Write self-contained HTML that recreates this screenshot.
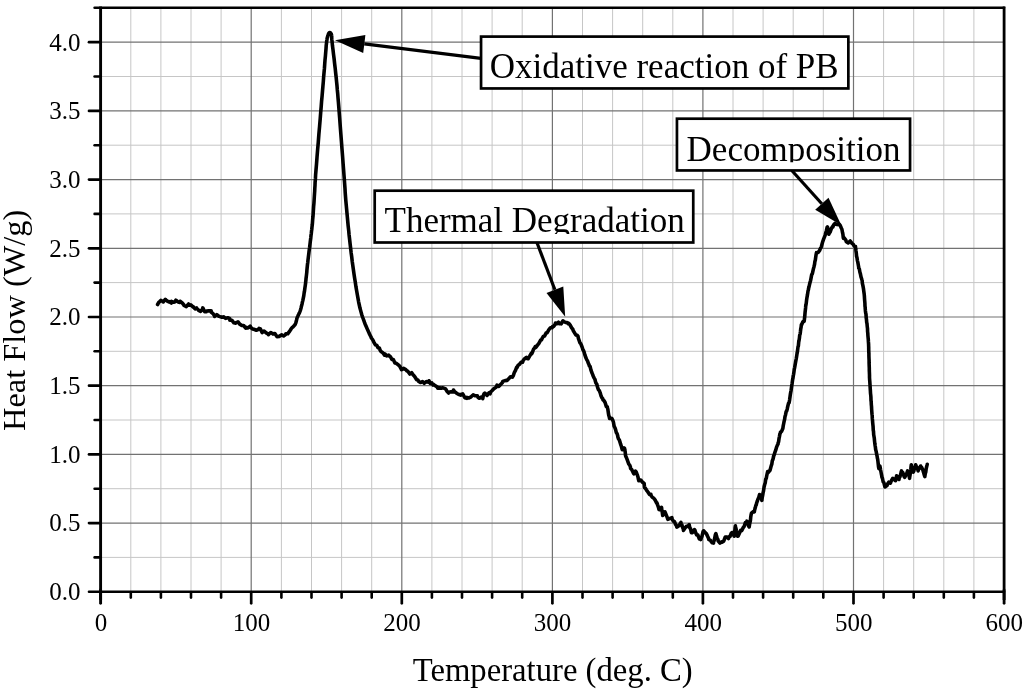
<!DOCTYPE html>
<html><head><meta charset="utf-8"><title>DSC curve</title>
<style>
html,body{margin:0;padding:0;background:#fff;}
body{width:1024px;height:693px;overflow:hidden;}
svg{display:block;will-change:transform;}
text{font-family:"Liberation Serif",serif;fill:#000;}
</style></head><body>
<svg width="1024" height="693" viewBox="0 0 1024 693">
<rect width="1024" height="693" fill="#fff"/>
<g stroke="#c6c6c6" stroke-width="1" fill="none">
<line x1="130.8" y1="9" x2="130.8" y2="591"/>
<line x1="160.9" y1="9" x2="160.9" y2="591"/>
<line x1="191.0" y1="9" x2="191.0" y2="591"/>
<line x1="221.1" y1="9" x2="221.1" y2="591"/>
<line x1="281.4" y1="9" x2="281.4" y2="591"/>
<line x1="311.5" y1="9" x2="311.5" y2="591"/>
<line x1="341.6" y1="9" x2="341.6" y2="591"/>
<line x1="371.7" y1="9" x2="371.7" y2="591"/>
<line x1="431.9" y1="9" x2="431.9" y2="591"/>
<line x1="462.0" y1="9" x2="462.0" y2="591"/>
<line x1="492.1" y1="9" x2="492.1" y2="591"/>
<line x1="522.2" y1="9" x2="522.2" y2="591"/>
<line x1="582.5" y1="9" x2="582.5" y2="591"/>
<line x1="612.6" y1="9" x2="612.6" y2="591"/>
<line x1="642.7" y1="9" x2="642.7" y2="591"/>
<line x1="672.8" y1="9" x2="672.8" y2="591"/>
<line x1="733.0" y1="9" x2="733.0" y2="591"/>
<line x1="763.1" y1="9" x2="763.1" y2="591"/>
<line x1="793.2" y1="9" x2="793.2" y2="591"/>
<line x1="823.3" y1="9" x2="823.3" y2="591"/>
<line x1="883.6" y1="9" x2="883.6" y2="591"/>
<line x1="913.7" y1="9" x2="913.7" y2="591"/>
<line x1="943.8" y1="9" x2="943.8" y2="591"/>
<line x1="973.9" y1="9" x2="973.9" y2="591"/>
<line x1="101" y1="557.4" x2="1004" y2="557.4"/>
<line x1="101" y1="488.7" x2="1004" y2="488.7"/>
<line x1="101" y1="420.0" x2="1004" y2="420.0"/>
<line x1="101" y1="351.3" x2="1004" y2="351.3"/>
<line x1="101" y1="282.6" x2="1004" y2="282.6"/>
<line x1="101" y1="213.9" x2="1004" y2="213.9"/>
<line x1="101" y1="145.2" x2="1004" y2="145.2"/>
<line x1="101" y1="76.5" x2="1004" y2="76.5"/>
</g>
<g stroke="#727272" stroke-width="1.2" fill="none">
<line x1="251.2" y1="9" x2="251.2" y2="591"/>
<line x1="401.8" y1="9" x2="401.8" y2="591"/>
<line x1="552.4" y1="9" x2="552.4" y2="591"/>
<line x1="702.9" y1="9" x2="702.9" y2="591"/>
<line x1="853.5" y1="9" x2="853.5" y2="591"/>
<line x1="101" y1="523.1" x2="1004" y2="523.1"/>
<line x1="101" y1="454.4" x2="1004" y2="454.4"/>
<line x1="101" y1="385.7" x2="1004" y2="385.7"/>
<line x1="101" y1="317.0" x2="1004" y2="317.0"/>
<line x1="101" y1="248.3" x2="1004" y2="248.3"/>
<line x1="101" y1="179.6" x2="1004" y2="179.6"/>
<line x1="101" y1="110.9" x2="1004" y2="110.9"/>
<line x1="101" y1="42.2" x2="1004" y2="42.2"/>
</g>
<g stroke="#000" fill="none" stroke-linecap="butt">
<path d="M94.6 7.75 H1004" stroke-width="2.6" stroke-linecap="round"/>
<path d="M1004.1 6.45 V600" stroke-width="2.8"/>
<path d="M1004.1 590 V603.3" stroke-width="2.8" stroke-linecap="round"/>
<path d="M100.6 6.45 V600" stroke-width="2.9"/>
<path d="M100.6 590 V603.3" stroke-width="2.9" stroke-linecap="round"/>
<path d="M89 591.75 H1004" stroke-width="2.6" stroke-linecap="round"/>
<line x1="130.8" y1="593" x2="130.8" y2="597.6" stroke-width="2.6" stroke-linecap="round"/>
<line x1="160.9" y1="593" x2="160.9" y2="597.6" stroke-width="2.6" stroke-linecap="round"/>
<line x1="191.0" y1="593" x2="191.0" y2="597.6" stroke-width="2.6" stroke-linecap="round"/>
<line x1="221.1" y1="593" x2="221.1" y2="597.6" stroke-width="2.6" stroke-linecap="round"/>
<line x1="251.2" y1="593" x2="251.2" y2="603.3" stroke-width="2.7" stroke-linecap="round"/>
<line x1="281.4" y1="593" x2="281.4" y2="597.6" stroke-width="2.6" stroke-linecap="round"/>
<line x1="311.5" y1="593" x2="311.5" y2="597.6" stroke-width="2.6" stroke-linecap="round"/>
<line x1="341.6" y1="593" x2="341.6" y2="597.6" stroke-width="2.6" stroke-linecap="round"/>
<line x1="371.7" y1="593" x2="371.7" y2="597.6" stroke-width="2.6" stroke-linecap="round"/>
<line x1="401.8" y1="593" x2="401.8" y2="603.3" stroke-width="2.7" stroke-linecap="round"/>
<line x1="431.9" y1="593" x2="431.9" y2="597.6" stroke-width="2.6" stroke-linecap="round"/>
<line x1="462.0" y1="593" x2="462.0" y2="597.6" stroke-width="2.6" stroke-linecap="round"/>
<line x1="492.1" y1="593" x2="492.1" y2="597.6" stroke-width="2.6" stroke-linecap="round"/>
<line x1="522.2" y1="593" x2="522.2" y2="597.6" stroke-width="2.6" stroke-linecap="round"/>
<line x1="552.4" y1="593" x2="552.4" y2="603.3" stroke-width="2.7" stroke-linecap="round"/>
<line x1="582.5" y1="593" x2="582.5" y2="597.6" stroke-width="2.6" stroke-linecap="round"/>
<line x1="612.6" y1="593" x2="612.6" y2="597.6" stroke-width="2.6" stroke-linecap="round"/>
<line x1="642.7" y1="593" x2="642.7" y2="597.6" stroke-width="2.6" stroke-linecap="round"/>
<line x1="672.8" y1="593" x2="672.8" y2="597.6" stroke-width="2.6" stroke-linecap="round"/>
<line x1="702.9" y1="593" x2="702.9" y2="603.3" stroke-width="2.7" stroke-linecap="round"/>
<line x1="733.0" y1="593" x2="733.0" y2="597.6" stroke-width="2.6" stroke-linecap="round"/>
<line x1="763.1" y1="593" x2="763.1" y2="597.6" stroke-width="2.6" stroke-linecap="round"/>
<line x1="793.2" y1="593" x2="793.2" y2="597.6" stroke-width="2.6" stroke-linecap="round"/>
<line x1="823.3" y1="593" x2="823.3" y2="597.6" stroke-width="2.6" stroke-linecap="round"/>
<line x1="853.5" y1="593" x2="853.5" y2="603.3" stroke-width="2.7" stroke-linecap="round"/>
<line x1="883.6" y1="593" x2="883.6" y2="597.6" stroke-width="2.6" stroke-linecap="round"/>
<line x1="913.7" y1="593" x2="913.7" y2="597.6" stroke-width="2.6" stroke-linecap="round"/>
<line x1="943.8" y1="593" x2="943.8" y2="597.6" stroke-width="2.6" stroke-linecap="round"/>
<line x1="973.9" y1="593" x2="973.9" y2="597.6" stroke-width="2.6" stroke-linecap="round"/>
<line x1="94.6" y1="557.4" x2="100" y2="557.4" stroke-width="2.6" stroke-linecap="round"/>
<line x1="89" y1="523.1" x2="100" y2="523.1" stroke-width="2.7" stroke-linecap="round"/>
<line x1="94.6" y1="488.7" x2="100" y2="488.7" stroke-width="2.6" stroke-linecap="round"/>
<line x1="89" y1="454.4" x2="100" y2="454.4" stroke-width="2.7" stroke-linecap="round"/>
<line x1="94.6" y1="420.0" x2="100" y2="420.0" stroke-width="2.6" stroke-linecap="round"/>
<line x1="89" y1="385.7" x2="100" y2="385.7" stroke-width="2.7" stroke-linecap="round"/>
<line x1="94.6" y1="351.3" x2="100" y2="351.3" stroke-width="2.6" stroke-linecap="round"/>
<line x1="89" y1="317.0" x2="100" y2="317.0" stroke-width="2.7" stroke-linecap="round"/>
<line x1="94.6" y1="282.6" x2="100" y2="282.6" stroke-width="2.6" stroke-linecap="round"/>
<line x1="89" y1="248.3" x2="100" y2="248.3" stroke-width="2.7" stroke-linecap="round"/>
<line x1="94.6" y1="213.9" x2="100" y2="213.9" stroke-width="2.6" stroke-linecap="round"/>
<line x1="89" y1="179.6" x2="100" y2="179.6" stroke-width="2.7" stroke-linecap="round"/>
<line x1="94.6" y1="145.2" x2="100" y2="145.2" stroke-width="2.6" stroke-linecap="round"/>
<line x1="89" y1="110.9" x2="100" y2="110.9" stroke-width="2.7" stroke-linecap="round"/>
<line x1="94.6" y1="76.5" x2="100" y2="76.5" stroke-width="2.6" stroke-linecap="round"/>
<line x1="89" y1="42.2" x2="100" y2="42.2" stroke-width="2.7" stroke-linecap="round"/>
</g>
<g font-size="25" text-anchor="middle">
<text x="101.0" y="631">0</text>
<text x="251.6" y="631">100</text>
<text x="402.1" y="631">200</text>
<text x="552.6" y="631">300</text>
<text x="703.2" y="631">400</text>
<text x="853.8" y="631">500</text>
<text x="1004.3" y="631">600</text>
</g>
<g font-size="25" text-anchor="end">
<text x="80.5" y="600.0">0.0</text>
<text x="80.5" y="531.4">0.5</text>
<text x="80.5" y="462.7">1.0</text>
<text x="80.5" y="394.0">1.5</text>
<text x="80.5" y="325.3">2.0</text>
<text x="80.5" y="256.6">2.5</text>
<text x="80.5" y="187.9">3.0</text>
<text x="80.5" y="119.2">3.5</text>
<text x="80.5" y="50.5">4.0</text>
</g>
<text x="552.7" y="681" font-size="32.7" text-anchor="middle">Temperature (deg. C)</text>
<text transform="translate(24.6 320.3) rotate(-90)" font-size="32.4" text-anchor="middle">Heat Flow (W/g)</text>
<path d="M157.6 304.5 L158.9 302.2 L159.5 301.8 L160.8 300.4 L163.0 301.5 L163.1 302.0 L165.3 299.3 L166.4 300.4 L167.3 301.1 L169.0 302.0 L169.3 301.7 L171.3 303.0 L171.4 301.4 L173.6 302.3 L175.0 301.8 L175.9 300.2 L178.1 301.9 L180.0 302.4 L180.3 301.3 L182.2 302.8 L184.0 305.2 L184.0 305.5 L186.3 306.6 L188.6 304.0 L188.8 305.3 L190.8 304.9 L193.0 306.9 L193.0 306.5 L195.1 308.9 L196.6 307.9 L197.1 308.7 L198.5 310.0 L198.6 310.4 L200.6 311.4 L202.5 309.2 L202.8 307.9 L204.7 311.8 L206.4 311.8 L206.7 311.1 L208.9 310.8 L211.2 310.9 L211.3 312.3 L212.9 313.4 L214.2 315.3 L214.6 316.5 L216.8 314.6 L218.5 316.0 L219.1 316.4 L221.3 317.1 L223.0 317.0 L223.5 316.8 L225.6 318.4 L227.7 317.7 L229.8 318.7 L229.8 320.2 L231.8 320.2 L233.9 322.8 L235.7 323.1 L236.0 322.7 L237.7 322.1 L238.0 321.8 L239.7 324.1 L241.5 325.2 L241.6 325.4 L243.6 325.5 L245.7 328.1 L246.4 327.4 L248.0 328.0 L250.2 326.1 L250.4 327.0 L252.1 328.6 L253.3 329.3 L254.0 329.3 L256.3 330.2 L258.6 329.3 L259.1 328.4 L260.4 328.9 L262.1 332.6 L263.0 331.9 L264.1 331.0 L266.2 332.9 L267.9 333.8 L268.4 334.7 L270.7 332.5 L272.8 333.8 L272.9 333.9 L274.9 333.6 L276.7 336.2 L276.9 336.7 L279.1 336.4 L281.3 335.1 L281.6 334.8 L283.6 336.0 L285.5 334.6 L285.8 333.8 L287.8 333.8 L288.4 332.7 L289.3 331.7 L290.6 329.8 L291.4 328.4 L291.7 328.1 L292.1 327.7 L292.7 327.2 L293.2 326.7 L293.8 326.1 L294.4 325.4 L294.9 324.8 L295.3 324.1 L295.6 323.4 L295.9 322.6 L296.1 321.8 L296.3 321.0 L296.5 320.2 L296.7 319.3 L296.9 318.4 L297.2 317.6 L297.5 316.8 L297.9 316.0 L298.2 315.3 L298.6 314.5 L299.0 313.7 L299.4 312.9 L299.8 311.9 L300.2 310.8 L300.6 309.6 L301.0 308.2 L301.3 306.8 L301.7 305.3 L302.1 303.7 L302.4 302.1 L302.8 300.6 L303.1 299.1 L303.4 297.6 L303.7 296.2 L303.9 294.7 L304.1 293.2 L304.4 291.7 L304.6 290.2 L304.8 288.8 L305.0 287.3 L305.2 285.9 L305.4 284.5 L305.6 283.1 L305.7 281.7 L305.9 280.3 L306.0 278.8 L306.2 277.2 L306.4 275.6 L306.6 273.9 L306.8 272.1 L306.9 270.2 L307.1 268.3 L307.3 266.3 L307.5 264.3 L307.8 262.2 L308.0 260.0 L308.3 257.7 L308.6 255.3 L308.9 252.7 L309.2 250.2 L309.6 247.5 L309.9 245.0 L310.2 242.4 L310.5 240.0 L310.8 237.7 L311.0 235.5 L311.3 233.4 L311.5 231.3 L311.8 229.2 L312.0 226.9 L312.3 224.6 L312.5 222.0 L312.7 219.2 L313.0 216.3 L313.2 213.2 L313.4 210.1 L313.6 206.8 L313.9 203.6 L314.1 200.3 L314.3 197.0 L314.5 193.9 L314.7 191.1 L314.8 188.4 L315.0 185.5 L315.1 182.5 L315.4 178.9 L315.6 174.9 L316.0 170.0 L316.5 164.1 L317.0 157.3 L317.6 149.8 L318.3 142.0 L318.9 134.0 L319.6 126.2 L320.2 118.9 L320.7 112.4 L321.2 106.5 L321.6 101.0 L322.1 95.9 L322.5 91.0 L322.9 86.3 L323.3 81.8 L323.6 77.3 L324.0 73.0 L324.4 68.7 L324.7 64.3 L325.0 60.1 L325.4 56.1 L325.7 52.3 L326.0 48.8 L326.2 45.7 L326.5 43.1 L326.7 41.1 L327.0 39.5 L327.1 38.4 L327.3 37.6 L327.5 37.0 L327.7 36.5 L327.8 36.1 L328.0 35.5 L328.2 34.9 L328.3 34.4 L328.5 34.0 L328.7 33.6 L328.8 33.3 L329.0 33.1 L329.1 32.9 L329.3 32.7 L329.5 32.6 L329.6 32.5 L329.8 32.5 L330.0 32.5 L330.1 32.6 L330.3 32.7 L330.5 32.8 L330.6 33.0 L330.7 33.2 L330.9 33.4 L331.0 33.6 L331.1 33.8 L331.3 34.1 L331.4 34.5 L331.5 34.9 L331.6 35.5 L331.7 36.0 L331.7 36.4 L331.7 36.8 L331.7 37.3 L331.7 38.0 L331.8 39.2 L332.0 40.8 L332.2 43.1 L332.5 46.1 L333.0 49.8 L333.5 54.1 L334.1 58.7 L334.6 63.5 L335.2 68.4 L335.7 73.2 L336.2 77.7 L336.6 81.9 L337.0 85.8 L337.3 89.7 L337.7 93.6 L338.0 97.7 L338.4 102.1 L338.8 107.0 L339.2 112.4 L339.7 118.7 L340.2 125.7 L340.8 133.3 L341.4 141.2 L342.0 149.1 L342.6 156.7 L343.1 163.7 L343.6 170.0 L344.0 175.4 L344.4 180.3 L344.7 184.7 L345.0 188.7 L345.2 192.6 L345.5 196.5 L345.8 200.4 L346.2 204.6 L346.6 208.9 L347.0 213.3 L347.4 217.6 L347.8 222.0 L348.2 226.3 L348.7 230.6 L349.1 235.0 L349.6 239.3 L350.1 243.7 L350.6 248.0 L351.1 252.4 L351.7 256.8 L352.2 261.2 L352.8 265.5 L353.4 269.7 L354.0 273.9 L354.6 278.0 L355.3 282.2 L355.9 286.4 L356.6 290.5 L357.3 294.5 L358.0 298.3 L358.6 301.8 L359.3 305.0 L359.9 307.8 L360.6 310.4 L361.2 312.6 L361.8 314.7 L362.4 316.6 L363.1 318.5 L363.8 320.4 L364.5 322.4 L365.3 324.5 L366.3 326.8 L367.3 329.1 L368.3 331.3 L369.2 333.4 L370.1 335.2 L370.9 336.8 L371.4 338.0 L372.7 339.8 L374.1 342.6 L375.4 344.8 L376.8 345.4 L378.1 347.8 L379.4 348.1 L380.0 350.0 L381.0 351.5 L382.8 352.7 L384.6 355.2 L385.0 354.0 L386.6 355.9 L388.7 355.1 L390.0 356.5 L390.5 356.9 L391.9 359.4 L393.3 359.5 L394.7 362.5 L395.0 363.0 L396.3 363.3 L398.0 364.7 L399.7 366.1 L401.0 368.6 L401.5 369.7 L403.6 368.4 L405.8 369.6 L407.0 371.0 L407.8 371.2 L409.8 374.0 L411.7 372.7 L413.2 375.0 L413.5 375.2 L415.1 377.2 L416.7 379.8 L418.0 380.0 L418.4 381.3 L420.4 382.5 L422.5 381.6 L424.2 383.3 L424.5 382.9 L426.5 381.6 L428.6 382.3 L429.0 380.8 L430.3 383.4 L431.8 382.8 L433.0 385.0 L433.5 384.3 L435.4 385.8 L437.3 387.1 L437.6 388.1 L439.6 387.9 L441.9 388.1 L442.5 387.7 L443.8 388.1 L445.5 388.8 L447.2 391.6 L448.6 393.0 L449.0 392.3 L451.0 391.8 L453.0 391.9 L453.5 390.1 L454.7 391.8 L456.4 392.9 L457.0 393.5 L458.4 394.3 L460.6 395.1 L460.8 394.5 L462.7 393.9 L464.8 397.7 L466.8 398.3 L466.9 397.4 L469.0 397.9 L471.1 396.8 L473.0 395.0 L473.2 394.8 L475.3 395.8 L477.4 395.8 L478.0 397.5 L479.5 398.3 L481.8 396.8 L482.8 398.6 L483.1 396.6 L483.7 394.6 L484.0 393.8 L484.8 393.1 L486.8 394.9 L487.0 395.5 L488.8 393.0 L490.1 393.8 L490.7 391.8 L492.2 390.5 L493.8 388.7 L495.3 387.7 L496.2 387.2 L497.0 385.1 L498.9 386.4 L500.8 384.3 L502.3 382.8 L502.7 381.4 L504.7 380.8 L506.8 380.1 L507.0 380.5 L508.7 378.8 L510.5 376.7 L512.1 376.7 L512.3 377.2 L513.3 375.6 L514.4 372.3 L515.5 370.3 L516.6 367.3 L517.0 367.6 L518.0 365.4 L519.5 364.3 L521.0 362.4 L522.6 362.2 L523.0 360.8 L524.4 358.9 L526.4 357.3 L527.0 358.5 L528.1 358.7 L529.8 355.9 L531.4 353.1 L531.6 354.0 L532.5 352.2 L533.6 349.0 L534.6 348.1 L535.3 346.6 L535.8 347.5 L537.3 345.4 L538.9 343.3 L540.5 340.3 L541.4 340.0 L541.9 338.9 L543.2 336.5 L544.5 336.1 L545.8 333.6 L546.3 332.7 L547.2 332.6 L548.9 329.6 L550.5 327.7 L552.1 327.8 L552.4 326.6 L553.6 326.5 L555.1 324.4 L555.5 323.0 L557.2 323.6 L558.5 322.2 L559.3 323.7 L560.8 323.5 L561.2 323.8 L563.0 320.8 L563.3 321.3 L565.0 322.1 L566.0 322.5 L567.1 322.6 L568.2 323.7 L568.8 323.3 L570.2 325.1 L571.5 327.6 L572.9 329.4 L573.1 330.3 L574.3 332.4 L575.8 334.9 L577.2 335.3 L578.0 336.4 L578.4 338.3 L579.2 340.6 L579.9 342.7 L580.7 343.6 L581.5 345.5 L582.3 347.6 L582.9 349.8 L583.1 349.7 L584.0 351.8 L584.9 354.9 L585.8 357.6 L586.7 359.6 L587.5 360.9 L588.4 363.4 L589.0 364.5 L589.3 365.9 L590.1 366.5 L590.9 369.9 L591.8 372.5 L592.6 374.4 L593.4 376.5 L594.2 378.1 L595.1 379.6 L595.1 380.3 L595.9 383.0 L596.8 384.2 L597.6 387.3 L598.5 389.8 L599.4 390.7 L600.0 392.5 L600.2 392.8 L601.1 396.1 L601.9 397.8 L602.8 398.8 L603.0 400.0 L603.9 400.5 L605.1 402.5 L606.3 406.4 L607.3 406.9 L607.4 407.9 L607.8 409.0 L608.3 412.4 L608.7 415.0 L609.2 416.7 L609.6 418.5 L609.8 418.0 L611.9 418.5 L612.0 418.7 L612.7 420.1 L613.4 422.0 L614.1 426.1 L614.9 427.7 L615.6 429.6 L616.3 432.6 L617.1 433.8 L617.7 435.8 L617.8 436.8 L618.5 438.9 L619.3 439.9 L620.0 442.1 L620.7 444.4 L621.4 446.5 L622.2 449.4 L622.3 449.6 L624.0 448.0 L624.6 448.5 L624.8 450.0 L625.2 451.8 L625.5 455.3 L625.8 456.5 L626.0 456.6 L626.9 458.9 L627.8 461.3 L628.8 464.1 L629.7 465.1 L630.4 466.9 L630.6 468.4 L631.7 469.5 L632.7 471.6 L633.7 473.6 L633.8 473.8 L635.4 471.1 L636.2 472.0 L636.6 473.2 L637.3 474.9 L637.9 476.7 L638.5 479.6 L638.8 480.7 L640.7 480.0 L642.6 482.3 L644.2 483.5 L644.2 484.1 L644.4 486.2 L644.6 487.7 L645.0 487.8 L646.5 490.1 L647.9 492.0 L649.4 494.4 L650.9 494.3 L651.2 495.8 L652.3 497.3 L653.8 498.2 L655.2 500.1 L656.7 503.2 L656.9 502.7 L657.5 504.6 L658.3 506.9 L659.0 509.5 L659.2 509.6 L660.3 509.7 L661.5 507.3 L661.6 507.9 L661.9 510.4 L662.3 512.5 L662.6 514.8 L662.7 515.4 L663.6 514.5 L664.9 511.9 L665.0 511.9 L665.8 513.9 L666.6 515.9 L667.3 517.7 L667.8 519.3 L670.1 518.4 L671.9 517.7 L672.1 519.0 L673.3 521.2 L674.4 521.5 L675.5 524.2 L676.5 525.8 L676.8 527.1 L678.9 525.8 L680.9 522.4 L681.2 523.5 L681.8 524.6 L682.6 527.5 L683.3 528.9 L683.5 530.4 L684.6 528.5 L686.3 526.4 L687.9 526.4 L689.2 524.6 L689.3 525.5 L689.9 528.0 L690.6 528.8 L691.2 532.0 L691.5 532.7 L692.5 532.6 L694.4 529.6 L695.0 530.4 L695.7 532.7 L696.7 535.0 L697.3 535.0 L697.9 535.1 L699.3 538.9 L700.7 539.2 L700.8 539.6 L701.4 537.5 L702.0 536.2 L702.6 533.7 L703.1 531.5 L703.6 530.8 L705.5 532.9 L706.5 533.8 L706.9 534.9 L707.8 536.7 L708.6 538.5 L708.8 539.6 L710.2 540.1 L712.1 542.8 L713.5 543.1 L713.6 541.7 L714.2 540.4 L714.7 538.0 L715.3 535.0 L715.8 533.8 L715.9 533.6 L716.6 536.4 L717.3 538.4 L718.0 539.6 L718.1 540.8 L720.0 543.1 L721.5 541.9 L722.0 542.2 L723.7 541.2 L725.3 537.0 L726.2 537.3 L727.1 537.0 L728.5 538.5 L728.9 536.7 L730.0 536.5 L731.2 533.3 L731.9 532.7 L732.4 532.5 L733.7 535.2 L734.2 536.2 L734.4 535.5 L734.6 533.1 L734.9 529.9 L735.1 527.5 L735.4 525.8 L735.4 526.6 L735.9 528.2 L736.4 530.7 L736.9 531.9 L737.4 534.1 L737.7 536.2 L738.2 535.9 L739.4 533.3 L740.6 530.4 L741.2 530.4 L741.8 530.6 L743.0 527.9 L744.2 526.3 L745.4 522.6 L746.6 522.6 L746.9 521.2 L747.5 521.9 L748.4 525.7 L749.2 526.9 L749.2 526.6 L749.6 524.2 L750.0 522.3 L750.4 520.6 L750.7 517.3 L751.1 514.8 L751.5 513.2 L751.5 513.1 L753.6 511.3 L754.3 511.9 L754.7 509.7 L755.3 507.6 L755.9 505.1 L756.2 505.0 L756.6 503.2 L757.3 501.2 L758.0 499.0 L758.7 497.7 L759.5 494.6 L759.6 494.6 L760.3 496.3 L761.1 497.8 L761.9 500.4 L761.9 499.9 L762.3 497.1 L762.7 495.2 L763.1 492.6 L763.4 491.5 L763.8 488.9 L764.2 486.1 L764.2 486.5 L764.7 484.3 L765.2 482.9 L765.7 479.2 L766.3 478.2 L766.8 475.3 L767.3 473.1 L767.7 471.5 L768.3 472.4 L770.0 470.4 L770.1 469.9 L770.7 467.8 L771.2 465.9 L771.8 464.2 L772.3 460.8 L772.9 459.5 L773.5 457.0 L773.5 456.5 L774.2 454.8 L775.0 452.1 L775.8 449.9 L776.6 447.1 L777.4 445.1 L778.1 443.8 L778.1 442.9 L778.6 441.8 L779.0 438.7 L779.5 436.3 L779.9 433.9 L780.4 433.0 L780.4 432.3 L781.6 431.4 L782.7 428.8 L782.8 428.8 L783.2 425.9 L783.7 423.5 L784.1 421.4 L784.6 419.4 L785.0 416.6 L785.5 414.9 L786.0 412.3 L786.2 411.5 L786.5 411.4 L787.2 409.2 L787.8 406.2 L788.5 403.4 L789.1 402.6 L789.6 400.0 L789.7 399.1 L790.0 396.9 L790.4 394.1 L790.7 392.4 L791.1 390.3 L791.4 388.1 L791.8 385.3 L792.1 383.5 L792.5 380.5 L792.8 378.6 L793.0 378.0 L793.2 376.0 L793.6 374.3 L794.0 371.4 L794.3 369.1 L794.7 367.3 L795.1 364.9 L795.4 363.2 L795.8 360.9 L796.2 359.0 L796.6 356.5 L796.9 354.4 L797.3 352.4 L797.7 349.3 L797.7 349.4 L798.0 346.9 L798.4 345.7 L798.7 342.1 L799.0 340.7 L799.4 338.3 L799.7 335.1 L800.1 334.1 L800.4 331.9 L800.7 329.2 L801.1 327.1 L801.4 324.5 L801.4 325.3 L802.9 321.7 L804.2 321.2 L804.2 320.9 L804.5 318.6 L804.7 316.8 L804.9 314.5 L805.1 312.2 L805.4 309.6 L805.6 307.7 L805.7 306.0 L805.9 305.2 L806.3 302.9 L806.6 299.9 L807.0 297.3 L807.4 295.2 L807.7 293.3 L808.1 290.6 L808.5 289.5 L808.5 288.7 L809.0 286.8 L809.5 284.7 L810.0 282.5 L810.6 280.4 L811.1 277.9 L811.1 277.8 L811.7 274.7 L812.3 273.9 L812.8 271.6 L813.4 268.9 L814.0 266.7 L814.4 264.9 L814.5 264.7 L814.9 261.4 L815.3 260.3 L815.7 257.2 L816.1 254.6 L816.5 252.7 L816.5 253.0 L818.2 252.3 L819.8 250.2 L819.9 249.4 L820.6 248.3 L821.4 246.7 L822.2 243.5 L822.9 241.1 L823.0 241.1 L823.6 239.1 L824.3 237.3 L825.1 235.3 L825.8 232.8 L825.8 232.5 L826.4 230.7 L827.1 227.4 L827.4 227.0 L827.6 227.4 L828.1 229.9 L828.6 233.0 L828.9 234.2 L829.2 233.2 L830.3 231.8 L831.4 228.5 L832.5 226.6 L832.8 227.0 L833.6 225.0 L834.8 224.0 L834.9 223.4 L836.9 224.5 L839.2 224.8 L839.3 224.2 L840.3 225.6 L841.4 228.2 L841.9 229.2 L842.1 230.3 L842.5 232.5 L842.9 234.2 L843.3 237.8 L843.6 238.5 L844.3 238.0 L845.8 240.0 L846.3 241.8 L848.2 242.9 L850.2 241.0 L852.2 243.6 L853.3 244.4 L854.1 246.1 L855.5 246.5 L855.5 247.5 L855.8 249.0 L856.0 251.0 L856.3 253.2 L856.6 256.6 L856.6 256.3 L857.0 257.7 L857.4 260.6 L857.8 262.1 L858.3 265.0 L858.7 267.1 L858.7 268.1 L859.3 268.8 L859.9 272.3 L860.4 273.9 L861.0 276.9 L861.6 278.7 L862.0 280.1 L862.1 280.2 L862.4 283.5 L862.8 285.1 L863.1 286.7 L863.5 288.9 L863.9 292.0 L864.2 294.2 L864.2 294.2 L864.4 296.3 L864.5 298.3 L864.7 300.9 L864.9 303.2 L865.0 306.2 L865.2 307.3 L865.2 308.2 L865.4 310.7 L865.7 313.1 L866.0 314.3 L866.2 317.8 L866.5 319.8 L866.7 322.3 L867.0 323.7 L867.2 326.1 L867.4 327.7 L867.5 328.4 L867.6 331.6 L867.8 333.3 L867.9 335.3 L868.1 337.7 L868.3 339.7 L868.4 341.7 L868.6 344.1 L868.6 345.0 L868.7 347.4 L868.7 349.0 L868.8 352.1 L868.9 353.5 L868.9 355.8 L869.0 358.5 L869.1 360.3 L869.1 362.9 L869.2 365.9 L869.3 368.1 L869.3 370.4 L869.4 372.4 L869.5 375.1 L869.5 377.4 L869.6 379.0 L869.6 379.2 L869.8 381.7 L869.9 383.1 L870.1 386.3 L870.2 388.2 L870.4 391.0 L870.5 393.1 L870.7 394.9 L870.9 396.9 L871.0 400.4 L871.2 401.6 L871.3 404.3 L871.5 406.4 L871.6 408.4 L871.6 408.7 L871.8 411.6 L872.0 414.2 L872.2 415.5 L872.3 418.4 L872.5 420.1 L872.7 422.8 L872.9 424.9 L873.1 426.8 L873.2 429.1 L873.3 430.5 L873.5 431.4 L873.7 434.8 L874.0 436.5 L874.3 438.3 L874.6 441.6 L874.9 444.1 L875.1 445.5 L875.4 447.3 L875.7 450.1 L875.7 449.6 L876.2 451.7 L876.7 454.4 L877.1 456.2 L877.5 458.7 L877.6 458.7 L877.9 461.1 L878.2 463.8 L878.5 466.6 L878.9 468.7 L878.9 468.5 L879.7 466.4 L879.9 466.0 L880.2 467.5 L880.6 470.0 L881.0 472.0 L881.4 474.2 L881.8 476.0 L881.9 477.0 L882.5 478.5 L883.2 482.0 L883.9 482.6 L884.6 485.5 L885.0 486.9 L885.5 486.6 L887.0 485.5 L888.0 483.2 L888.7 482.2 L890.4 483.2 L890.7 482.2 L891.7 480.1 L892.7 478.4 L892.9 478.3 L894.3 479.5 L895.3 480.7 L895.5 480.7 L896.1 478.3 L896.6 475.8 L896.8 477.1 L898.1 476.8 L899.0 479.5 L899.2 478.0 L899.8 477.1 L900.4 475.3 L901.1 472.3 L901.5 470.9 L901.9 471.8 L902.8 472.6 L903.8 475.6 L904.4 477.1 L904.8 477.3 L905.9 475.0 L906.9 473.1 L907.6 470.9 L907.8 472.6 L908.4 473.4 L909.0 475.4 L909.6 478.3 L909.6 477.7 L909.9 476.0 L910.2 474.0 L910.5 472.1 L910.8 469.5 L911.0 467.1 L911.3 464.8 L911.4 465.5 L911.9 467.2 L912.5 469.6 L913.1 470.9 L913.2 472.2 L913.8 471.1 L914.5 467.8 L915.2 467.0 L915.7 464.8 L916.0 465.9 L916.9 467.3 L917.7 469.1 L918.1 470.9 L918.7 469.2 L919.7 468.1 L920.6 466.0 L920.7 466.7 L921.7 467.5 L922.7 469.5 L923.5 472.2 L923.6 472.6 L924.3 474.9 L924.8 476.6 L924.9 476.0 L925.3 473.5 L925.8 471.9 L926.2 468.6 L926.6 466.8 L927.1 464.9 L927.2 464.3" fill="none" stroke="#000" stroke-width="3.6" stroke-linejoin="round" stroke-linecap="round"/>
<line x1="481.0" y1="58.4" x2="364.3" y2="43.9" stroke="#000" stroke-width="3.2"/>
<polygon points="335.0,40.3 365.4,35.0 363.2,52.9" fill="#000"/>
<line x1="536.9" y1="242.5" x2="554.9" y2="289.7" stroke="#000" stroke-width="3.2"/>
<polygon points="565.2,316.8 546.5,292.9 563.3,286.5" fill="#000"/>
<line x1="791.8" y1="170.5" x2="821.8" y2="203.7" stroke="#000" stroke-width="3.2"/>
<polygon points="841.3,225.2 815.2,209.7 828.5,197.7" fill="#000"/>
<rect x="481.05" y="36.6" width="367.3" height="51.85" fill="#fff" stroke="#000" stroke-width="2.7"/>
<clipPath id="c481"><rect x="481.05" y="36.6" width="367.3" height="51.9"/></clipPath>
<text x="489.7" y="77.6" font-size="35" clip-path="url(#c481)">Oxidative reaction of PB</text>
<rect x="374.7" y="190.7" width="318.55" height="51.80000000000001" fill="#fff" stroke="#000" stroke-width="2.7"/>
<clipPath id="c374"><rect x="374.7" y="190.7" width="318.55" height="43.30000000000001"/></clipPath>
<text x="384.5" y="232.4" font-size="35" clip-path="url(#c374)">Thermal Degradation</text>
<rect x="676.95" y="118.7" width="233.0999999999999" height="51.749999999999986" fill="#fff" stroke="#000" stroke-width="2.7"/>
<clipPath id="c676"><rect x="676.95" y="118.7" width="233.0999999999999" height="43.499999999999986"/></clipPath>
<text x="686.6" y="160.9" font-size="35" clip-path="url(#c676)">Decomposition</text>
</svg>
</body></html>
